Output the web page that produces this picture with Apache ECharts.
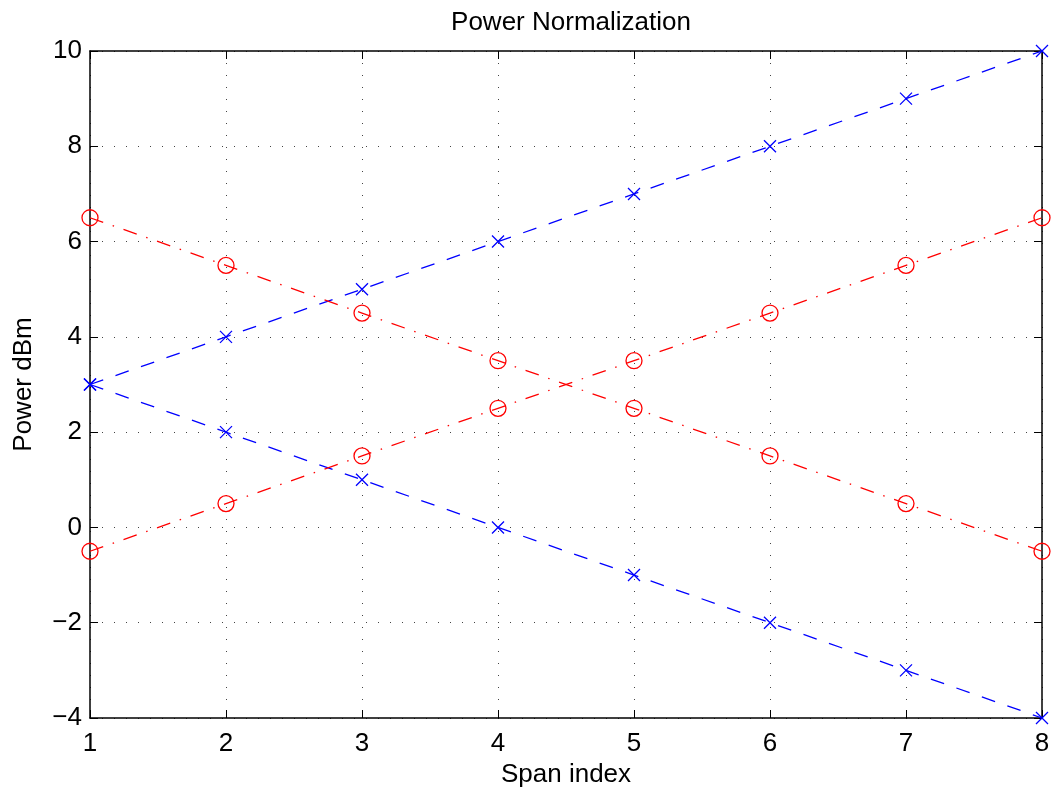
<!DOCTYPE html>
<html><head><meta charset="utf-8">
<script src="https://cdn.jsdelivr.net/npm/echarts@6/dist/echarts.min.js"></script>
<style>html,body{margin:0;padding:0;background:#fff}#c{width:1052px;height:793px}</style>
</head><body><div id="c"></div>
<script>
const spans = [1,2,3,4,5,6,7,8];
const blueUp = [3,4,5,6,7,8,9,10];
const blueDown = [3,2,1,0,-1,-2,-3,-4];
const redDown = [6.5,5.5,4.5,3.5,2.5,1.5,0.5,-0.5];
const redUp = [-0.5,0.5,1.5,2.5,3.5,4.5,5.5,6.5];

const FONT = 'Liberation Sans, Arial, sans-serif';
const xMark = 'path://M0,0L10,10M10,0L0,10';
function pairs(ys){ return spans.map((x,i)=>[x,ys[i]]); }
function blueSeries(ys){
  return {type:'line', data:pairs(ys), symbol:xMark, symbolSize:12,
    itemStyle:{color:'none', borderColor:'#0000ff', borderWidth:1.3},
    lineStyle:{color:'#0000ff', width:1.3, type:[14,13]}, animation:false, z:3};
}
function redSeries(ys){
  return {type:'line', data:pairs(ys), symbol:'circle', symbolSize:16,
    itemStyle:{color:'rgba(0,0,0,0)', borderColor:'#ff0000', borderWidth:1.3},
    lineStyle:{color:'#ff0000', width:1.3, type:[14,10,1.5,10]}, animation:false, z:3};
}
const chart = echarts.init(document.getElementById('c'));
const axisCommon = {
  axisLine:{show:true, onZero:false, lineStyle:{color:'#000', width:1.5}},
  axisTick:{show:true, inside:true, length:8, lineStyle:{color:'#000', width:1}},
};
const grid = {show:true, lineStyle:{color:'#444', type:[1,11], width:1}};
chart.setOption({
  animation:false,
  title:{text:'Power Normalization', left:566, top:5, textAlign:'center',
    textStyle:{fontFamily:FONT, fontSize:26, fontWeight:'normal', color:'#000'}},
  grid:{left:90, right:10, top:51, bottom:75, containLabel:false, outerBoundsMode:'none'},
  xAxis:[{type:'value', min:1, max:8, interval:1, position:'bottom',
    name:'Span index', nameLocation:'middle', nameGap:43,
    nameTextStyle:{fontFamily:FONT, fontSize:26, color:'#000'},
    ...axisCommon,
    axisLabel:{fontFamily:FONT, fontSize:26, color:'#000', margin:13},
    splitLine:grid},
   {type:'value', min:1, max:8, interval:1, position:'top', ...axisCommon,
    axisLabel:{show:false}, splitLine:{show:false}}],
  yAxis:[{type:'value', min:-4, max:10, interval:2, position:'left',
    name:'Power dBm', nameLocation:'middle', nameGap:53,
    nameTextStyle:{fontFamily:FONT, fontSize:26, color:'#000'},
    ...axisCommon,
    axisLabel:{fontFamily:FONT, fontSize:26, color:'#000', margin:8,
      formatter:v=>String(v).replace('-','\u2212')},
    splitLine:grid},
   {type:'value', min:-4, max:10, interval:2, position:'right', ...axisCommon,
    axisLabel:{show:false}, splitLine:{show:false}}],
  series:[blueSeries(blueUp), blueSeries(blueDown), redSeries(redDown), redSeries(redUp)]
});
</script></body></html>
